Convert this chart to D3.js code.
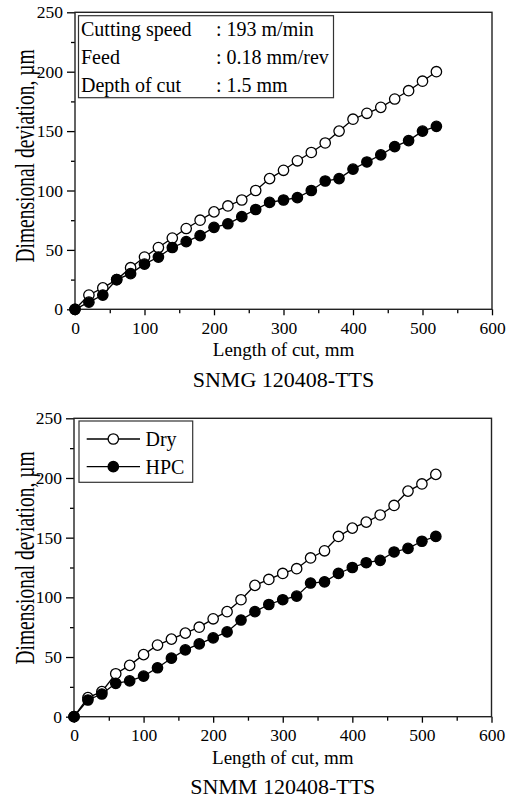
<!DOCTYPE html>
<html lang="en">
<head>
    <meta charset="UTF-8">
    <title>Dimensional deviation vs length of cut</title>
    <script src="https://d3js.org/d3.v7.min.js"></script>
    <style>
        body {
            margin: 0;
            background: white;
        }
    </style>
</head>
<body>
    <script>
        // Data (length of cut in mm, deviation in µm)
        const lengthOfCut = [0, 20, 40, 60, 80, 100, 120, 140, 160, 180, 200, 220, 240, 260,
            280, 300, 320, 340, 360, 380, 400, 420, 440, 460, 480, 500, 520];

        const snmgDry = [0, 12, 18, 25, 35, 44, 52, 60, 68, 75, 82, 87, 92, 100,
            110, 117, 125, 132, 140, 150, 160, 165, 170, 177, 184, 192, 200];
        const snmgHpc = [0, 6, 12, 25, 30, 38, 44, 52, 57, 62, 69, 72, 78, 84,
            90, 92, 94, 100, 108, 110, 118, 124, 130, 137, 142, 150, 154];

        const snmmDry = [0, 16, 21, 36, 43, 52, 60, 65, 70, 75, 82, 88, 98, 110,
            115, 120, 124, 133, 139, 151, 158, 163, 169, 177, 189, 195, 203];
        const snmmHpc = [0, 14, 19, 28, 30, 34, 41, 49, 56, 61, 66, 71, 81, 88,
            94, 98, 101, 112, 113, 120, 125, 129, 131, 138, 141, 147, 151];

        const xTicks = [0, 100, 200, 300, 400, 500, 600];
        const yTicks = [0, 50, 100, 150, 200, 250];
        const conditionLabels = ["Cutting speed", "Feed", "Depth of cut"];
        const conditionValues = [": 193 m/min", ": 0.18 mm/rev", ": 1.5 mm"];
        const seriesNames = ["Dry", "HPC"];

        const width = 508;
        const height = 801;
        const font = '"Liberation Serif"';

        const svg = d3.select("body")
            .append("svg")
            .attr("width", width)
            .attr("height", height);

        // small helper so every label gets the serif face
        function addText(parent, txt, size) {
            return parent.append("text")
                .style("font-family", font)
                .style("font-size", size + "px")
                .attr("fill", "black")
                .text(txt);
        }

        function drawPanel(cfg) {
            const x = d3.scaleLinear().domain([0, 600]).range([cfg.left, cfg.right]);
            const y = d3.scaleLinear().domain([0, 250]).range([cfg.bottom, cfg.top]);
            const g = svg.append("g");

            // minor ticks first, majors drawn by the axis
            g.append("g")
                .attr("transform", `translate(0,${cfg.bottom})`)
                .call(d3.axisBottom(x).tickValues(d3.range(50, 600, 100)).tickSize(4).tickFormat(""))
                .call(a => a.select(".domain").remove());
            g.append("g")
                .attr("transform", `translate(${cfg.left},0)`)
                .call(d3.axisLeft(y).tickValues(d3.range(25, 250, 50)).tickSize(4).tickFormat(""))
                .call(a => a.select(".domain").remove());

            const xAxis = g.append("g")
                .attr("transform", `translate(0,${cfg.bottom})`)
                .call(d3.axisBottom(x).tickValues(xTicks).tickSize(6).tickPadding(6));
            xAxis.select(".domain").remove();

            const yAxis = g.append("g")
                .attr("transform", `translate(${cfg.left},0)`)
                .call(d3.axisLeft(y).tickValues(yTicks).tickSize(8).tickPadding(4));
            yAxis.select(".domain").remove();

            g.selectAll(".tick text")
                .style("font-family", font)
                .style("font-size", "17.5px")
                .attr("fill", "black");
            g.selectAll(".tick line").attr("stroke", "black").attr("stroke-width", 1.3);

            // frame
            g.append("rect")
                .attr("x", cfg.left)
                .attr("y", cfg.top)
                .attr("width", cfg.right - cfg.left)
                .attr("height", cfg.bottom - cfg.top)
                .attr("fill", "none")
                .attr("stroke", "#222")
                .attr("stroke-width", 1.4);

            // axis titles
            addText(g, "Length of cut, mm", 19)
                .attr("x", (cfg.left + cfg.right) / 2)
                .attr("y", cfg.bottom + 47)
                .attr("text-anchor", "middle");

            // the y title in the source is drawn taller than it is wide
            addText(g, "Dimensional deviation, µm", 19.5)
                .attr("transform", `translate(${cfg.yLabelX},${cfg.yLabelY}) rotate(-90) scale(1,1.35)`)
                .attr("text-anchor", "middle");

            addText(g, cfg.title, 22)
                .attr("x", (cfg.left + cfg.right) / 2)
                .attr("y", cfg.bottom + 77.5)
                .attr("text-anchor", "middle");

            const line = d3.line()
                .x((d, i) => x(lengthOfCut[i]))
                .y(d => y(d));

            [cfg.dry, cfg.hpc].forEach((vals, k) => {
                g.append("path")
                    .datum(vals)
                    .attr("d", line)
                    .attr("fill", "none")
                    .attr("stroke", "black")
                    .attr("stroke-width", 1.3);

                g.selectAll(null)
                    .data(vals)
                    .enter()
                    .append("circle")
                    .attr("cx", (d, i) => x(lengthOfCut[i]))
                    .attr("cy", d => y(d))
                    .attr("r", 5.2)
                    .attr("fill", k === 0 ? "white" : "black")
                    .attr("stroke", "black")
                    .attr("stroke-width", 1.3);
            });

            return g;
        }

        // Top panel
        const topPanel = drawPanel({
            left: 75, right: 492, top: 12.3, bottom: 309.3, yLabelX: 34, yLabelY: 156,
            title: "SNMG 120408-TTS", dry: snmgDry, hpc: snmgHpc
        });

        topPanel.append("rect")
            .attr("x", 78.5).attr("y", 15.7)
            .attr("width", 255).attr("height", 82)
            .attr("fill", "white")
            .attr("stroke", "#333")
            .attr("stroke-width", 1.2);

        conditionLabels.forEach((lab, i) => {
            addText(topPanel, lab, 20)
                .attr("x", 81).attr("y", 36 + i * 27.8);
            addText(topPanel, conditionValues[i], 20)
                .attr("x", 216).attr("y", 36 + i * 27.8);
        });

        // Bottom panel
        const bottomPanel = drawPanel({
            left: 74, right: 491.5, top: 418.3, bottom: 716.7, yLabelX: 34, yLabelY: 558,
            title: "SNMM 120408-TTS", dry: snmmDry, hpc: snmmHpc
        });

        bottomPanel.append("rect")
            .attr("x", 79).attr("y", 421)
            .attr("width", 113.7).attr("height", 61.3)
            .attr("fill", "white")
            .attr("stroke", "#333")
            .attr("stroke-width", 1.2);

        seriesNames.forEach((name, i) => {
            const yy = 439 + i * 27.7;
            bottomPanel.append("line")
                .attr("x1", 86.7).attr("x2", 140)
                .attr("y1", yy).attr("y2", yy)
                .attr("stroke", "black")
                .attr("stroke-width", 1.3);
            bottomPanel.append("circle")
                .attr("cx", 113.3).attr("cy", yy)
                .attr("r", 5.2)
                .attr("fill", i === 0 ? "white" : "black")
                .attr("stroke", "black")
                .attr("stroke-width", 1.3);
            addText(bottomPanel, name, 20)
                .attr("x", 145.5).attr("y", yy + 7);
        });
    </script>
</body>
</html>
